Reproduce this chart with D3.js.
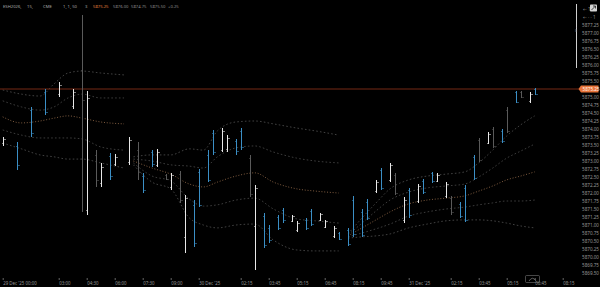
<!DOCTYPE html>
<html>
<head>
<meta charset="utf-8">
<script src="https://cdn.jsdelivr.net/npm/d3@7"></script>
<style>
  html, body { margin: 0; padding: 0; background: #000; }
  svg { display: block; font-family: 'Noto Sans', 'DejaVu Sans', sans-serif; }
</style>
</head>
<body>
<svg id="chart" width="600" height="287"></svg>
<script>
const legendSymbol = ['ESH2026,', '15,', 'CME', '1, 1, 50', '3']
const legendValues = ['5875.25', '5876.00', '5874.75', '5875.50', '+0.25']
const lastPrice = 5875.25

const priceTicks = [5877.25, 5877.00, 5876.75, 5876.50, 5876.25, 5876.00, 5875.75, 5875.50,
  5875.00, 5874.75, 5874.50, 5874.25, 5874.00, 5873.75, 5873.50, 5873.25, 5873.00,
  5872.75, 5872.50, 5872.25, 5872.00, 5871.75, 5871.50, 5871.25, 5871.00, 5870.75, 5870.50,
  5870.25, 5870.00, 5869.75, 5869.50]

const timeSlots = [0, 12, 18, 24, 30, 36, 42, 51, 57, 63, 69, 75, 81, 87, 96, 102, 108, 114, 120]
const timeLabels = ["29 Dec '25  00:00", '03:00', '04:30', '06:00', '07:30', '09:00', "30 Dec '25",
  '02:15', '03:45', '05:15', '06:45', '08:15', '09:45', "31 Dec '25", '02:15', '03:45',
  '05:15', '06:45', '08:15']

// [slot, open, high, low, close, kind]  w = up, b = down, g = faded
const bars = [
  [0, 5873.56, 5873.75, 5873.47, 5873.69, 'w'],
  [3, 5873.47, 5873.59, 5872.72, 5872.88, 'b'],
  [6, 5874.59, 5874.69, 5873.75, 5873.88, 'b'],
  [9, 5875.16, 5875.25, 5874.44, 5874.53, 'b'],
  [12, 5875.09, 5875.47, 5875.00, 5875.38, 'w'],
  [15, 5874.72, 5875.25, 5874.63, 5875.16, 'w'],
  [17, 5875.84, 5877.56, 5871.41, 5874.91, 'g'],
  [18, 5871.47, 5875.19, 5871.31, 5874.97, 'w'],
  [20, 5873.19, 5873.34, 5872.19, 5872.41, 'g'],
  [21, 5872.31, 5872.94, 5872.19, 5872.81, 'w'],
  [23, 5873.16, 5873.25, 5872.41, 5872.53, 'b'],
  [24, 5872.91, 5873.22, 5872.84, 5873.13, 'w'],
  [27, 5872.97, 5873.75, 5872.88, 5873.66, 'w'],
  [29, 5873.34, 5873.59, 5872.41, 5872.66, 'g'],
  [30, 5872.53, 5872.63, 5872.00, 5872.09, 'b'],
  [32, 5873.28, 5873.34, 5872.81, 5872.91, 'b'],
  [33, 5872.88, 5873.38, 5872.81, 5873.28, 'w'],
  [35, 5872.56, 5872.59, 5872.41, 5872.44, 'g'],
  [36, 5872.19, 5872.63, 5872.09, 5872.56, 'w'],
  [38, 5872.59, 5872.69, 5871.69, 5871.78, 'g'],
  [39, 5870.63, 5871.94, 5870.13, 5871.84, 'w'],
  [41, 5871.63, 5871.78, 5870.31, 5870.44, 'b'],
  [42, 5872.66, 5872.75, 5871.56, 5871.63, 'b'],
  [44, 5873.19, 5873.34, 5872.34, 5872.41, 'b'],
  [45, 5873.88, 5873.97, 5873.19, 5873.28, 'b'],
  [47, 5873.34, 5874.03, 5873.28, 5873.94, 'w'],
  [48, 5873.38, 5873.81, 5873.28, 5873.72, 'w'],
  [50, 5873.63, 5873.69, 5873.19, 5873.31, 'b'],
  [51, 5873.94, 5874.03, 5873.34, 5873.44, 'b'],
  [53, 5873.09, 5873.19, 5871.88, 5871.97, 'g'],
  [54, 5870.97, 5872.25, 5869.59, 5872.16, 'w'],
  [56, 5871.28, 5871.38, 5870.28, 5870.38, 'b'],
  [57, 5870.91, 5871.00, 5870.44, 5870.53, 'b'],
  [59, 5871.25, 5871.31, 5870.84, 5870.91, 'b'],
  [60, 5871.47, 5871.53, 5871.06, 5871.16, 'b'],
  [62, 5871.13, 5871.31, 5871.09, 5871.28, 'w'],
  [63, 5870.84, 5871.13, 5870.78, 5871.06, 'w'],
  [65, 5871.16, 5871.22, 5870.84, 5870.91, 'b'],
  [66, 5871.44, 5871.50, 5870.97, 5871.03, 'b'],
  [68, 5871.16, 5871.38, 5871.13, 5871.34, 'w'],
  [69, 5870.94, 5871.16, 5870.91, 5871.13, 'w'],
  [71, 5870.66, 5870.97, 5870.59, 5870.91, 'w'],
  [72, 5870.75, 5870.78, 5870.53, 5870.56, 'b'],
  [74, 5870.84, 5870.91, 5870.34, 5870.41, 'b'],
  [75, 5871.78, 5871.91, 5870.63, 5870.72, 'b'],
  [77, 5871.41, 5871.50, 5870.63, 5870.69, 'b'],
  [78, 5871.72, 5871.81, 5871.16, 5871.22, 'b'],
  [80, 5872.06, 5872.41, 5872.00, 5872.34, 'w'],
  [81, 5872.72, 5872.78, 5872.09, 5872.16, 'b'],
  [83, 5872.41, 5872.94, 5872.34, 5872.88, 'w'],
  [84, 5872.56, 5872.63, 5871.94, 5872.00, 'g'],
  [86, 5871.16, 5871.88, 5871.06, 5871.78, 'w'],
  [87, 5872.09, 5872.16, 5871.22, 5871.31, 'b'],
  [89, 5871.75, 5872.28, 5871.69, 5872.22, 'w'],
  [90, 5872.38, 5872.44, 5871.97, 5872.03, 'b'],
  [92, 5872.63, 5872.66, 5872.31, 5872.38, 'b'],
  [93, 5872.38, 5872.63, 5872.34, 5872.56, 'w'],
  [95, 5871.91, 5872.34, 5871.84, 5872.28, 'w'],
  [96, 5871.84, 5871.91, 5871.31, 5871.41, 'g'],
  [98, 5871.66, 5871.72, 5871.22, 5871.28, 'b'],
  [99, 5872.16, 5872.25, 5871.09, 5871.16, 'b'],
  [101, 5873.13, 5873.19, 5872.41, 5872.47, 'b'],
  [102, 5873.66, 5873.72, 5872.97, 5873.03, 'g'],
  [104, 5873.56, 5873.91, 5873.53, 5873.84, 'w'],
  [105, 5874.00, 5874.06, 5873.41, 5873.47, 'g'],
  [107, 5873.94, 5874.00, 5873.56, 5873.63, 'b'],
  [108, 5874.59, 5874.69, 5873.88, 5873.94, 'g'],
  [110, 5875.16, 5875.19, 5874.81, 5874.84, 'b'],
  [111, 5875.16, 5875.19, 5874.97, 5875.00, 'g'],
  [113, 5874.88, 5875.16, 5874.81, 5875.09, 'w'],
  [114, 5875.25, 5875.28, 5875.06, 5875.09, 'b'],
]

// vwap bands, one list per session: [slot, upper2, upper1, vwap, lower1, lower2]
const session1 = [
  [0, 5875.22, 5874.88, 5874.38, 5873.97, 5873.56],
  [4, 5875.09, 5874.69, 5874.19, 5873.81, 5873.38],
  [8, 5875.03, 5874.59, 5874.25, 5873.72, 5873.19],
  [11, 5875.41, 5874.69, 5874.34, 5873.72, 5873.13],
  [14, 5875.75, 5874.97, 5874.41, 5873.72, 5873.06],
  [17, 5875.81, 5875.09, 5874.34, 5873.69, 5873.06],
  [21, 5875.75, 5874.97, 5874.22, 5873.44, 5872.94],
  [26, 5875.69, 5874.97, 5874.16, 5873.34, 5872.78],
]
const session2 = [
  [28, 5873.13, 5873.06, 5873.00, 5872.94, 5872.88],
  [32, 5873.19, 5873.00, 5872.78, 5872.53, 5872.34],
  [36, 5873.19, 5872.88, 5872.59, 5872.38, 5872.13],
  [40, 5873.38, 5872.84, 5872.28, 5871.81, 5871.22],
  [43, 5873.34, 5872.78, 5872.19, 5871.59, 5871.00],
  [46, 5873.94, 5873.13, 5872.34, 5871.63, 5870.91],
  [50, 5874.22, 5873.41, 5872.53, 5871.78, 5871.00],
  [54, 5874.25, 5873.47, 5872.63, 5871.84, 5871.03],
  [58, 5874.16, 5873.28, 5872.34, 5871.50, 5870.53],
  [63, 5874.03, 5873.09, 5872.13, 5871.19, 5870.22],
  [67, 5873.94, 5873.00, 5872.06, 5871.13, 5870.19],
  [72, 5873.81, 5872.94, 5872.00, 5871.06, 5870.19],
]
const session3 = [
  [74, 5870.72, 5870.69, 5870.66, 5870.63, 5870.59],
  [77, 5871.22, 5871.06, 5870.91, 5870.75, 5870.63],
  [80, 5871.69, 5871.44, 5871.16, 5870.88, 5870.66],
  [83, 5872.13, 5871.78, 5871.41, 5871.03, 5870.72],
  [87, 5872.41, 5872.03, 5871.66, 5871.28, 5870.91],
  [91, 5872.53, 5872.16, 5871.78, 5871.41, 5871.03],
  [95, 5872.59, 5872.22, 5871.84, 5871.50, 5871.13],
  [99, 5872.66, 5872.28, 5871.91, 5871.56, 5871.16],
  [102, 5872.94, 5872.50, 5872.06, 5871.63, 5871.16],
  [105, 5873.34, 5872.78, 5872.22, 5871.69, 5871.13],
  [108, 5873.78, 5873.09, 5872.41, 5871.75, 5871.06],
  [111, 5874.13, 5873.31, 5872.53, 5871.75, 5870.97],
  [114, 5874.41, 5873.53, 5872.66, 5871.78, 5870.91],
]

const colors = { w: '#e8e8e8', b: '#3b8fc6', g: '#5a5a5a' }
const textColor = '#959595'

const svg = d3.select('#chart')
svg.append('rect').attr('width', 600).attr('height', 287).attr('fill', '#000')

const x = d3.scaleLinear().domain([0, 123]).range([2.7, 576.7])
const y = d3.scaleLinear().domain([5878, 5869.375]).range([1, 277])

// bands
const bandLayer = svg.append('g').attr('fill', 'none')
const bandStyles = [
  { col: 1, stroke: '#474747', dash: '1.6 2.2' },
  { col: 2, stroke: '#424242', dash: '1.6 2.2' },
  { col: 3, stroke: '#8c6546', dash: '1 1.8' },
  { col: 4, stroke: '#424242', dash: '1.6 2.2' },
  { col: 5, stroke: '#474747', dash: '1.6 2.2' },
]
;[session1, session2, session3].forEach(session => {
  bandStyles.forEach(s => {
    const line = d3.line()
      .x(d => x(d[0]))
      .y(d => y(d[s.col]))
      .curve(d3.curveMonotoneX)
    bandLayer.append('path')
      .attr('d', line(session))
      .attr('stroke', s.stroke)
      .attr('stroke-width', 0.9)
      .attr('stroke-dasharray', s.dash)
  })
})

// last price line
svg.append('line')
  .attr('x1', 0).attr('x2', 579)
  .attr('y1', y(lastPrice)).attr('y2', y(lastPrice))
  .attr('stroke', '#742914')
  .attr('stroke-width', 1)

// ohlc bars
const barLayer = svg.append('g').attr('shape-rendering', 'crispEdges')
const bx = d => Math.round(x(d[0]))
barLayer.selectAll('rect.hl').data(bars).join('rect')
  .attr('class', 'hl')
  .attr('x', bx)
  .attr('y', d => y(d[2]))
  .attr('width', 1)
  .attr('height', d => y(d[3]) - y(d[2]))
  .attr('fill', d => colors[d[5]])
barLayer.selectAll('rect.open').data(bars).join('rect')
  .attr('class', 'open')
  .attr('x', d => bx(d) - 1.5)
  .attr('y', d => Math.round(y(d[1])))
  .attr('width', 1.5)
  .attr('height', 1)
  .attr('fill', d => colors[d[5]])
  .attr('opacity', 0.55)
barLayer.selectAll('rect.close').data(bars).join('rect')
  .attr('class', 'close')
  .attr('x', d => bx(d) + 1)
  .attr('y', d => Math.round(y(d[4])))
  .attr('width', 1.5)
  .attr('height', 1)
  .attr('fill', d => colors[d[5]])
  .attr('opacity', 0.55)

// price axis
const yAxis = d3.axisRight(y)
  .tickValues(priceTicks)
  .tickSize(0)
  .tickPadding(0)
  .tickFormat(d3.format('.2f'))
const yAxisG = svg.append('g')
  .attr('transform', 'translate(582,0)')
  .call(yAxis)
yAxisG.select('.domain').remove()
yAxisG.selectAll('text')
  .attr('fill', textColor)
  .attr('font-size', 4.6)
  .attr('font-family', "'Noto Sans', sans-serif")

// last price tag
const tagY = y(lastPrice)
svg.append('path')
  .attr('d', `M578.5,${tagY} L581,${tagY - 3.6} H598.5 V${tagY + 3.6} H581 Z`)
  .attr('fill', '#e8743a')
svg.append('text')
  .attr('x', 582.5).attr('y', tagY)
  .attr('dy', '0.34em')
  .attr('font-size', 4.6)
  .attr('fill', '#fff3ea')
  .text(d3.format('.2f')(lastPrice))

// scale buttons top right
svg.append('line')
  .attr('x1', 576.5).attr('x2', 576.5).attr('y1', 4).attr('y2', 68)
  .attr('stroke', '#cfcfcf').attr('stroke-width', 1)
svg.append('text').attr('x', 583).attr('y', 10.6)
  .attr('font-size', 4.6).attr('fill', textColor).text('← 1')
svg.append('rect').attr('x', 590).attr('y', 4.5).attr('width', 7).attr('height', 7)
  .attr('rx', 0.8).attr('fill', '#d4d4d4')
svg.append('path').attr('d', 'M591.5,10 L595.5,6 M593,6 H595.5 V8.5')
  .attr('stroke', '#222').attr('stroke-width', 0.8).attr('fill', 'none')
svg.append('text').attr('x', 583).attr('y', 18.6)
  .attr('font-size', 4.6).attr('fill', textColor).text('← · ·  1')
svg.append('text')
  .attr('transform', 'translate(574.8,27) rotate(90)')
  .attr('font-size', 3.6).attr('fill', '#8a8a8a').text('·  ııı')

// time axis
const xAxis = d3.axisBottom(x)
  .tickValues(timeSlots)
  .tickSize(2)
  .tickPadding(1.5)
  .tickFormat((d, i) => timeLabels[i])
const xAxisG = svg.append('g')
  .attr('transform', 'translate(0,278)')
  .call(xAxis)
xAxisG.select('.domain').remove()
xAxisG.selectAll('line').attr('stroke', '#666')
xAxisG.selectAll('text')
  .attr('fill', textColor)
  .attr('font-size', 4.4)
  .attr('text-anchor', 'start')
  .attr('font-family', "'Noto Sans', sans-serif")

svg.append('rect').attr('x', 525.5).attr('y', 275.5).attr('width', 14).attr('height', 7)
  .attr('rx', 1).attr('fill', 'none').attr('stroke', '#777').attr('stroke-width', 0.6)
svg.append('path').attr('d', 'M529,281 Q532.5,275.5 536,281')
  .attr('fill', 'none').attr('stroke', '#999').attr('stroke-width', 0.6)

// legend top left
const legend = svg.append('g').attr('font-size', 4.2)
const legendX = [3, 27, 43, 63, 85]
legend.selectAll('text.sym').data(legendSymbol).join('text')
  .attr('class', 'sym')
  .attr('x', (d, i) => legendX[i]).attr('y', 7.5)
  .attr('fill', '#a8a8a8')
  .text(d => d)
const valueX = [93, 113, 131, 150, 168]
legend.selectAll('text.val').data(legendValues).join('text')
  .attr('class', 'val')
  .attr('x', (d, i) => valueX[i]).attr('y', 7.5)
  .attr('fill', (d, i) => (i === 0 ? '#e0823e' : '#8e8e8e'))
  .text(d => d)
</script>
</body>
</html>
